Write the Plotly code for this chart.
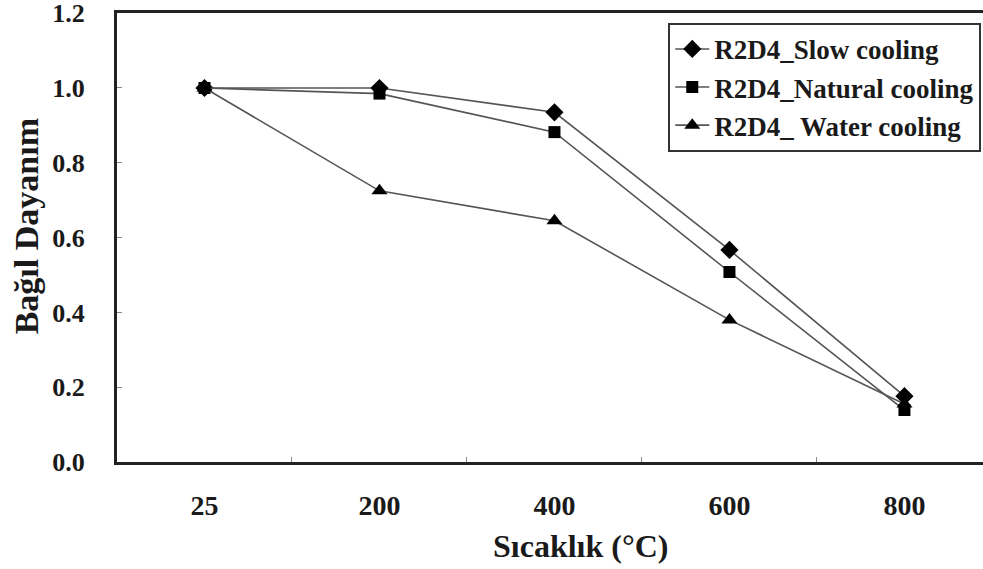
import plotly.graph_objects as go

# Temperature categories (°C) and relative strength per cooling regime
temperatures = ["25", "200", "400", "600", "800"]
slow_cooling = [1.00, 1.00, 0.935, 0.567, 0.176]
natural_cooling = [1.00, 0.985, 0.882, 0.508, 0.139]
water_cooling = [1.00, 0.725, 0.645, 0.380, 0.155]

series_names = ["R2D4_Slow cooling", "R2D4_Natural cooling", "R2D4_ Water cooling"]
y_ticks = [0.0, 0.2, 0.4, 0.6, 0.8, 1.0, 1.2]

x_title = "Sıcaklık (°C)"
y_title = "Bağıl Dayanım"

serif = "Liberation Serif, Times New Roman, serif"
line_color = "#555555"
text_color = "#1a1a1a"

fig = go.Figure()
for name, vals, sym, size in [
    (series_names[0], slow_cooling, "diamond", 14),
    (series_names[1], natural_cooling, "square", 12),
    (series_names[2], water_cooling, "triangle-up", 14),
]:
    fig.add_trace(go.Scatter(
        x=temperatures, y=vals, name=name, mode="lines+markers",
        line=dict(color=line_color, width=1.6),
        marker=dict(symbol=sym, size=size, color="black"),
    ))

fig.update_layout(
    width=983, height=569,
    margin=dict(l=117, r=0, t=13, b=107, autoexpand=False),
    paper_bgcolor="white", plot_bgcolor="white",
    font=dict(family=serif, color=text_color),
    legend=dict(
        x=0.998, y=0.978, xanchor="right", yanchor="top",
        bordercolor="#333333", borderwidth=2, bgcolor="white",
        font=dict(family=serif, size=27, color=text_color, weight="bold"),
        tracegroupgap=0, itemwidth=34,
    ),
)

# Axis titles placed as annotations in paper coordinates
fig.add_annotation(
    text=x_title, xref="paper", yref="paper", x=0.535, y=-0.186,
    xanchor="center", yanchor="middle", showarrow=False,
    font=dict(family=serif, size=32, weight="bold", color=text_color),
)
fig.add_annotation(
    text=y_title, xref="paper", yref="paper", x=-0.105, y=0.525,
    xanchor="center", yanchor="middle", showarrow=False, textangle=-90,
    font=dict(family=serif, size=34, weight="bold", color=text_color),
)

fig.update_xaxes(
    type="category", categoryorder="array", categoryarray=temperatures,
    range=[-0.5, 4.449], tickson="boundaries", automargin=False,
    ticks="inside", ticklen=5, tickcolor="#888888",
    showline=True, linecolor="#222222", linewidth=3, mirror=True,
    showgrid=False, zeroline=False,
    tickfont=dict(family=serif, size=28, weight="bold", color=text_color),
    ticklabelstandoff=16,
)

fig.update_yaxes(
    range=[0, 1.2005], tickvals=y_ticks, ticktext=[f"{v:.1f}" for v in y_ticks],
    ticks="inside", ticklen=5, tickcolor="#888888", automargin=False,
    showline=True, linecolor="#222222", linewidth=3, mirror=False,
    showgrid=False, zeroline=False, ticklabeloverflow="allow",
    tickfont=dict(family=serif, size=26, weight="bold", color=text_color),
    ticklabelstandoff=24,
)

fig.write_html("out.html")
